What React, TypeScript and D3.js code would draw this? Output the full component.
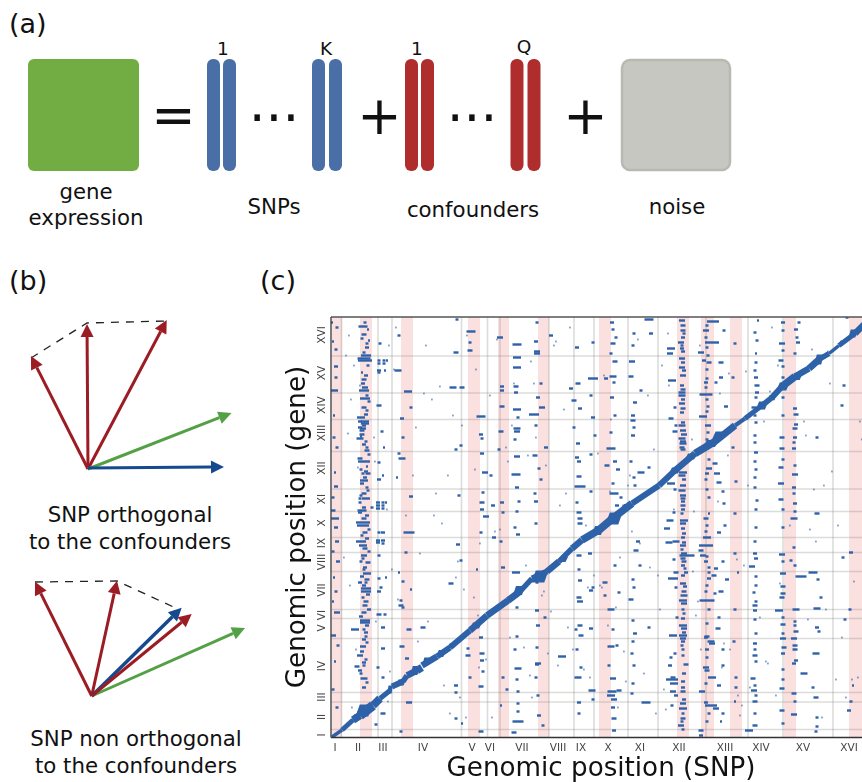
import React from "react";
import * as d3 from "d3";

const chromLabels = ["I","II","III","IV","V","VI","VII","VIII","IX","X","XI","XII","XIII","XIV","XV","XVI"];
const snpTicks = [4,27,52,92,141,159,191,227,250,277,309,348,394,430,472,518];
const geneTicks = [2.5,20.5,40.5,71.5,109.5,122.5,147.5,175.5,194.5,214.5,238.5,269.5,304.5,332.5,364.5,402.5];
const snpChromEnds = [10.5,47,61,130.5,156.5,169,218,243,263,297,327,375,417,452,502];
const geneChromEnds = [8,35.5,45,99,119,128,166,185,200,226,248.5,286,318,344.5,381.5];
const hotspotBands: [number,number][] = [[1,11],[29,41],[70,82],[137,149],[167,178],[207,218],[268,280],[346,358],[370,383],[399,411],[453,465],[518,535]];

const diagSnp = [1,11,22,29,42,49,59,null,61,72,76,86,91,null,91,106,119,139,156,177,189,201,216,228,241,251,268,284,301,328,344,364,384,404,414,431,441,451,464,478,488,498,508,524,533];
const diagGene = [0.5,7.5,17.5,22,32,39,47,null,51,56,62,67,70,null,72,81,90,107,122,137,146,159,166,176,189,197.5,207.5,221,234,252,267,284,296,312,319,332,340,351,361,369,378,384,392,404,413];
const diagWidth = [3,4,6,9,10,6,4,0,6,6,5,8,7,0,6,7,5,7,6,7,7,4,8,5,6,7,8,8,7,5,7,6,9,5,3,7,4,8,7,6,8,3,4,6,7];
const diagBlocks = [[33,27,17,12],[25,20,8,6],[59,48,6,8],[70,55,10,6],[84,67,9,9],[95,76,7,8],[110,84,9,7],[121,92,8,5],[145,112,12,6],[152,118,6,5],[188,147,12,9],[178,138,5,6],[209,161,17,12],[232,178,10,5],[267,207,12,9],[283,219,17,12],[296,231,12,5],[344,267,12,6],[360,281,12,6],[380,294,16,7],[388,302,14,8],[376,290,6,5],[431,332,12,8],[441,340,9,5],[452,351,13,8],[466,361,11,7],[474,367,8,4],[488,378,9,10],[522,404,9,8],[511,395,6,4]];

const rowsHotspotII = [[32,411,9],[33,403,5],[36,394,3],[35,382,10],[33,379,13],[32,377,10],[39,377,4],[33,358,5],[32,354,4],[34,350,6],[33,347,10],[36,342,3],[34,339,10],[30,320,8],[29,316,4],[34,316,8],[34,314,8],[29,310,4],[32,309,6],[31,307,5],[29,299,7],[30,301,2],[36,287,5],[29,279,5],[33,276,12],[36,271,2],[32,264,3],[37,264,5],[34,260,4],[33,257,8],[36,250,3],[35,239,8],[29,239,3],[29,235,3],[33,230,4],[41,230,3],[31,227,9],[29,225,4],[32,215,14],[32,212,12],[34,205,5],[30,196,10],[32,192,8],[33,182,6],[36,164,8],[29,155,4],[35,155,3],[35,149,10],[35,146,10],[34,132,5],[34,117,10],[34,115,10],[24,108,8],[33,108,3],[35,101,3],[32,91,6],[29,82,6],[26,71,5],[33,72,3],[29,67,4],[33,59,7]];
const rowsHotspotIIExtra = [[34,415,3],[37,408,2],[31,399,3],[38,397,2],[36,390,4],[33,385,3],[37,372,3],[31,365,2],[35,362,4],[38,336,3],[33,330,5],[36,327,3],[35,323,4],[33,312,4],[31,303,5],[35,296,3],[33,293,4],[36,290,3],[38,283,3],[30,268,3],[35,266,4],[31,254,4],[37,247,3],[33,244,5],[30,242,3],[36,222,4],[33,219,5],[38,208,3],[31,202,3],[36,199,4],[34,189,5],[38,186,3],[32,179,3],[37,175,5],[34,170,4],[31,161,4],[36,158,5],[33,152,4],[37,143,4],[32,140,3],[35,136,5],[38,128,4],[33,125,5],[30,121,4],[36,112,4],[35,105,4],[33,98,4],[36,95,3],[31,86,4],[35,78,3],[33,75,4],[30,64,3],[36,55,3],[33,50,4],[30,176,3],[33,168,3]];
const rowsColumnIII = [[49,394,3],[48,377,3],[53,377,3],[56,377,2],[48,374,3],[53,374,3],[48,367,4],[54,367,2],[48,365,3],[48,332,5],[48,258,4],[47,235,4],[52,235,3],[55,235,2],[47,232,4],[52,232,3],[47,229,4],[52,229,3],[48,205,3],[52,205,4],[47,197,4],[52,197,4],[47,195,4],[52,194,3],[48,182,3],[48,159,3],[48,146,4],[48,123,5],[54,123,3],[52,110,4],[52,89,4],[52,60,3],[45,13,3],[51,306,3],[53,290,2],[48,275,3],[52,262,2],[50,150,3],[55,160,2],[47,70,3],[52,24,5]];
const rowsColumnI = [[1,347,12],[5,251,4],[5,371,4],[4,219,8],[2,227,5],[5,210,4],[1,415,2],[6,125,6],[2,102,6],[2,136,2],[5,388,3],[3,300,3],[7,176,4],[6,410,3],[2,396,2],[5,360,3],[3,322,2],[6,290,3],[4,265,2],[2,240,3],[6,196,4],[2,186,3],[3,160,2],[5,146,3],[7,92,3],[4,76,2],[2,48,3],[6,30,3]];
const rowsColumnIV = [[67,367,7],[77,346,8],[71,319,4],[71,279,7],[68,284,3],[80,241,4],[78,205,11],[72,156,3],[70,137,3],[70,132,5],[72,130,3],[71,91,5],[78,108,5],[76,79,4],[78,35,6],[70,6,3],[68,402,3],[72,300,3],[80,330,3],[66,260,2],[75,185,3],[68,165,2],[80,148,2]];
const rowsMidLeft = [[126,418,3],[125,385,5],[122,350,7],[131,350,5],[125,288,3],[140,406,9],[139,395,3],[139,387,5],[150,321,9],[154,265,6],[150,303,4],[151,299,3],[151,284,4],[151,235,5],[151,228,4],[155,221,6],[163,200,4],[169,400,6],[170,306,5],[171,351,4],[171,347,4],[171,331,5],[171,235,4],[172,225,3],[125,19,3],[131,14,2],[120,154,5],[137,89,3],[137,82,5],[125,52,4],[150,6,5],[151,84,5],[151,77,4],[150,51,5],[92,110,5],[162,232,4],[160,262,3],[139,60,3],[125,45,3],[130,292,3],[128,242,3],[127,193,4],[130,177,3],[152,245,3],[150,205,3],[170,196,3],[172,170,4],[146,168,2],[168,288,3],[150,100,4],[152,66,3],[172,60,3],[176,48,3],[170,32,2]];
const rowsColumnVII = [[186,393,9],[186,380,8],[186,370,8],[185,351,5],[185,345,4],[186,328,8],[186,309,7],[186,306,6],[186,281,6],[185,263,9],[185,165,8],[187,69,7],[186,101,3],[187,16,11],[187,46,3],[187,34,3],[183,5,5],[205,396,4],[206,386,6],[206,384,6],[203,323,10],[204,282,5],[208,269,3],[220,402,4],[231,81,8],[206,73,4],[207,74,6],[206,127,4],[215,290,4],[211,330,6],[210,258,3],[205,236,4],[214,120,3],[187,320,3],[184,298,3],[186,250,4],[188,236,3],[186,226,3],[184,210,3],[187,203,4],[186,130,3],[184,88,3],[186,58,3],[187,26,3],[206,415,3],[210,354,3],[207,340,4],[205,312,3],[204,244,3],[205,214,3],[206,155,3],[207,112,4],[206,90,3],[205,60,3],[207,42,3],[208,22,4],[212,12,3]];
const rowsColumnIX = [[246,390,4],[247,354,5],[240,349,4],[243,337,5],[249,329,4],[243,310,3],[247,294,4],[248,276,4],[248,261,5],[249,251,11],[248,225,5],[249,219,5],[249,214,5],[248,182,5],[248,168,3],[249,157,4],[260,147,4],[248,140,5],[249,136,6],[249,112,5],[250,102,5],[247,60,7],[248,35,4],[261,47,7],[259,184,4],[262,359,10],[262,395,3],[260,342,3],[264,302,3],[262,320,4],[246,280,4],[260,283,3],[246,235,3],[260,246,3],[245,108,3],[246,88,3],[260,109,4],[250,70,3],[248,24,3],[262,38,3],[262,150,3]];
const rowsColumnX = [[275,359,4],[282,394,5],[281,415,4],[284,376,5],[282,361,7],[280,289,9],[287,268,4],[283,244,9],[276,272,5],[274,155,5],[280,128,7],[280,91,7],[282,59,6],[281,46,9],[288,47,5],[280,42,8],[283,38,6],[283,19,5],[283,7,4],[282,408,3],[285,400,3],[280,384,3],[283,355,3],[281,340,4],[284,322,3],[280,305,3],[284,276,4],[282,254,3],[290,240,3],[286,232,4],[284,172,3],[274,142,3],[288,145,3],[282,108,3],[286,92,3],[278,72,3],[282,30,4]];
const rowsColumnXI = [[301,376,6],[300,361,5],[310,347,3],[302,317,5],[302,302,4],[310,265,7],[320,404,4],[318,418,9],[305,187,5],[307,196,4],[309,172,3],[300,138,5],[302,117,3],[302,54,3],[315,35,9],[301,84,3],[302,322,4],[303,260,3],[303,404,3],[302,392,3],[304,335,4],[303,310,3],[300,276,3],[304,252,3],[318,270,3],[302,158,3],[303,150,3],[304,104,4],[302,96,3],[303,72,3],[301,44,3],[318,110,3]];
const rowsHotspotXII = [[351,417,6],[352,412,5],[352,407,5],[353,404,3],[350,395,6],[340,389,8],[351,389,4],[339,384,6],[351,379,6],[351,370,6],[353,367,4],[352,362,6],[341,357,8],[351,345,7],[351,342,7],[351,334,6],[352,329,5],[340,319,5],[351,312,7],[344,306,5],[352,307,6],[351,299,7],[352,294,7],[351,290,5],[352,265,8],[351,262,7],[340,254,8],[352,252,6],[351,247,7],[352,242,6],[352,239,5],[352,232,5],[339,217,7],[353,217,8],[352,214,6],[336,209,6],[352,209,4],[338,195,7],[353,195,4],[352,192,6],[345,196,7],[353,184,6],[356,182,15],[353,176,5],[352,172,4],[345,165,5],[355,165,4],[342,159,10],[352,154,6],[354,151,4],[353,142,7],[352,137,8],[353,134,6],[352,112,8],[353,109,6],[342,102,8],[352,102,8],[352,99,6],[352,96,4],[342,60,5],[341,58,12],[343,54,8],[342,46,6],[352,46,5],[345,42,4],[352,34,6],[352,29,8],[352,19,5],[350,12,6],[339,72,4],[355,73,5]];
const rowsHotspotXIIExtra = [[352,400,4],[351,392,3],[352,386,4],[352,375,4],[351,352,4],[352,348,5],[352,338,4],[351,325,4],[352,315,4],[353,303,6],[352,296,6],[352,288,5],[353,258,4],[352,236,4],[352,228,4],[351,224,3],[353,204,4],[352,200,4],[351,188,3],[352,179,5],[354,169,3],[352,162,4],[353,146,5],[352,128,3],[353,124,3],[352,119,4],[353,105,4],[351,92,3],[352,88,3],[352,82,3],[353,64,4],[352,56,4],[352,50,4],[353,38,4],[352,24,3],[351,16,3],[352,8,3],[344,330,3],[345,312,3],[342,265,3],[344,248,3],[343,225,3],[343,178,3],[345,150,3],[340,80,3],[344,84,3],[346,120,3],[341,32,3]];
const rowsColumnXIII = [[382,416,12],[375,407,6],[393,407,3],[376,395,4],[383,395,10],[370,385,6],[373,377,4],[378,375,5],[390,375,5],[376,359,3],[390,360,4],[375,355,4],[385,355,3],[375,343,13],[377,331,3],[395,331,4],[372,321,8],[377,312,6],[384,274,5],[378,269,6],[376,264,4],[386,264,6],[388,255,5],[393,234,3],[378,224,2],[375,219,5],[376,200,8],[375,192,14],[370,187,5],[372,182,6],[376,181,3],[375,176,4],[385,169,4],[378,170,3],[383,162,5],[378,159,4],[390,146,5],[376,137,15],[384,144,3],[387,109,5],[376,101,5],[375,100,4],[380,96,7],[381,94,6],[375,70,6],[376,67,5],[381,60,8],[371,46,6],[375,35,4],[380,32,12],[385,29,6],[370,7,5],[370,2,4]];
const rowsColumnXIIIExtra = [[376,412,3],[375,400,3],[376,390,3],[377,382,3],[376,368,3],[375,350,3],[376,338,3],[376,326,3],[377,305,3],[376,298,3],[378,278,3],[375,258,3],[376,248,3],[378,240,3],[376,212,3],[375,206,3],[378,165,3],[376,152,3],[375,146,3],[378,128,3],[376,114,3],[376,88,4],[376,80,3],[375,54,3],[378,24,3],[376,16,3],[392,246,3],[394,212,3],[388,205,4],[392,176,3],[396,158,4],[388,120,3],[392,88,3],[392,72,3],[388,52,4],[392,24,3],[390,16,2]];
const rowsColumnXIV = [[427,417,2],[424,405,3],[426,397,3],[425,384,2],[425,360,4],[426,352,5],[426,345,4],[423,330,5],[424,302,3],[424,295,3],[425,285,4],[424,260,3],[426,237,3],[424,184,4],[425,179,4],[421,171,6],[425,161,3],[424,132,5],[424,127,4],[424,94,4],[424,82,5],[422,59,5],[423,47,6],[424,36,5],[424,24,3],[424,12,5],[418,7,8],[404,394,3],[402,360,3],[404,184,3],[407,165,2],[425,375,3],[424,367,3],[425,340,3],[424,322,3],[425,315,3],[424,276,3],[425,268,3],[424,250,3],[425,228,3],[425,210,3],[424,196,3],[425,152,3],[423,145,3],[425,136,3],[424,118,3],[425,104,3],[424,88,3],[425,76,3],[424,52,3],[425,42,3],[405,256,3],[402,290,3],[404,224,3],[404,128,3],[403,96,3],[405,60,3],[405,50,3],[404,36,2]];
const rowsColumnXV = [[452,415,4],[468,415,3],[452,407,3],[451,394,6],[467,395,4],[450,377,5],[464,329,4],[465,323,5],[465,313,4],[464,309,5],[451,300,5],[451,289,5],[463,289,4],[450,270,5],[464,263,6],[450,254,6],[463,250,4],[450,238,5],[464,234,4],[463,219,7],[451,183,6],[460,177,3],[452,164,6],[470,161,11],[482,165,9],[452,151,5],[448,127,8],[465,128,7],[486,129,7],[452,113,5],[465,106,5],[452,99,6],[463,99,6],[453,90,5],[485,84,7],[465,77,4],[463,74,4],[473,64,7],[451,49,5],[463,44,5],[485,40,5],[451,27,5],[463,23,6],[485,6,3],[516,420,3],[511,332,3],[520,185,4],[519,128,3],[518,27,4]];
const rowsColumnXVExtra = [[465,408,4],[466,400,3],[452,387,3],[464,384,3],[452,371,3],[452,360,3],[452,340,3],[452,322,3],[464,300,4],[463,295,3],[452,278,3],[464,272,3],[463,244,3],[452,228,3],[464,226,3],[452,210,3],[463,190,3],[452,176,3],[464,172,3],[452,144,5],[451,140,5],[452,104,3],[464,116,3],[452,120,3],[464,112,3],[452,84,4],[464,92,5],[464,88,5],[452,68,3],[452,58,3],[464,36,3],[452,14,3],[486,300,3],[486,224,5],[486,110,4],[488,106,3],[487,158,3],[490,140,3],[482,50,3],[486,20,3],[486,11,3],[513,352,3],[512,180,3],[514,118,3],[520,36,3],[522,52,2]];

const sparseSnp = [17,22,28,42,57,64,81,92,100,108,116,121,130,135,144,158,165,176,182,196,202,214,222,232,238,254,266,272,279,291,296,306,316,322,330,337,362,368,388,396,405,414,432,440,446,474,480,492,498,506,528,12,18,24,44,58,66,86,96,112,118,128,142,147,160,178,192,200,210,226,236,258,270,286,292,312,326,334,364,392,408,418,436,444,476,490,504,526,20,56,74,104,124,148,174,194,212,228,256,276,294,318,332,366,398,410,434,478,494,514,16,26,60,88,110,134,146,168,198,216,234,262,284,300,324,360,390,412,438,482,500,522,14,19,43,55,62,84,94,102,126,132,143,154,163,180,199,204,219,224,241,252,268,278,288,298,308,328,336,342,361,369,386,397,406,416,428,442,448,458,472,484,496,510,520,530];
const sparseGene = [402,372,352,300,392,410,262,344,338,351,262,322,312,402,368,342,398,276,354,282,354,272,392,328,410,212,284,362,318,232,252,398,342,288,372,352,226,392,344,282,178,366,316,410,372,302,388,252,354,212,316,180,152,88,116,66,138,96,116,52,24,40,140,70,20,100,90,40,142,72,110,60,150,30,86,64,162,28,122,94,22,50,74,42,118,20,58,60,30,36,222,244,160,194,290,172,146,232,150,112,56,170,48,136,88,32,76,208,128,40,304,270,168,184,214,20,122,208,62,84,244,162,130,206,24,298,70,172,346,248,266,156,382,338,276,228,368,310,392,222,176,148,268,78,206,312,376,300,126,396,88,68,152,246,180,262,194,128,404,228,166,88,236,364,42,252,120,338,154,212,316,196,386,100,58,298];

const W = 862, H = 782;
const plotX0 = 331, plotY0 = 737.5, plotTop = 317;
const x = d3.scaleLinear().domain([0, 544]).range([plotX0, 875]);
const y = d3.scaleLinear().domain([0, 420.5]).range([plotY0, plotTop]);
const allRows = [rowsHotspotII,rowsHotspotIIExtra,rowsColumnIII,rowsColumnI,rowsColumnIV,rowsMidLeft,rowsColumnVII,rowsColumnIX,rowsColumnX,rowsColumnXI,rowsHotspotXII,rowsHotspotXIIExtra,rowsColumnXIII,rowsColumnXIIIExtra,rowsColumnXIV,rowsColumnXV,rowsColumnXVExtra].flat();

const BLUE = "#2f62a8";
const FONT = "'DejaVu Sans', sans-serif";

function Arrow({ p, q, color, w = 3 }: { p: number[]; q: number[]; color: string; w?: number }) {
  const a = Math.atan2(q[1] - p[1], q[0] - p[0]);
  const L = 13, S = 6.5;
  const bx = q[0] - L * Math.cos(a), by = q[1] - L * Math.sin(a);
  const nx = -Math.sin(a), ny = Math.cos(a);
  return (
    <g>
      <line x1={p[0]} y1={p[1]} x2={bx} y2={by} stroke={color} strokeWidth={w} />
      <polygon points={`${q[0]},${q[1]} ${bx + nx * S},${by + ny * S} ${bx - nx * S},${by - ny * S}`} fill={color} />
    </g>
  );
}

const txt = (s: string, xx: number, yy: number, size: number, anchor = "middle", fill = "#111") => (
  <text x={xx} y={yy} fontSize={size} textAnchor={anchor as any} fill={fill} fontFamily={FONT}>{s}</text>
);

export default function App() {
  const diagSegs: React.ReactNode[] = [];
  for (let i = 0; i < diagSnp.length - 1; i++) {
    if (diagSnp[i] === null || diagSnp[i + 1] === null) continue;
    diagSegs.push(
      <line key={i} x1={x(diagSnp[i] as number)} y1={y(diagGene[i] as number)} x2={x(diagSnp[i + 1] as number)} y2={y(diagGene[i + 1] as number)}
        stroke={BLUE} strokeWidth={(diagWidth[i] + diagWidth[i + 1]) / 2} />
    );
  }
  const dashed = d3.line();
  return (
    <svg width={W} height={H} viewBox={`0 0 ${W} ${H}`} style={{ position: "absolute", left: 0, top: 0, background: "#fff" }}>
      <defs>
        <clipPath id="plot"><rect x={plotX0} y={plotTop} width={W - plotX0} height={plotY0 - plotTop} /></clipPath>
        <filter id="soft" x="-2%" y="-2%" width="104%" height="104%"><feGaussianBlur stdDeviation="0.45" /></filter>
      </defs>

      {/* panel a */}
      {txt("(a)", 9, 33, 27, "start")}
      <rect x={28} y={59} width={111} height={112} rx={6} fill="#72ad43" />
      {[[207,"#4a6ea6"],[223,"#4a6ea6"],[312,"#4a6ea6"],[329,"#4a6ea6"],[405,"#b02d2d"],[421,"#b02d2d"],[510.5,"#b02d2d"],[527.5,"#b02d2d"]].map(([bx, c], i) => (
        <rect key={i} x={bx as number} y={59} width={13} height={112} rx={6} fill={c as string} />
      ))}
      <rect x={622} y={60} width={108} height={110} rx={8} fill="#c6c7c1" stroke="#b8b9b2" strokeWidth={2.5} />
      {txt("=", 173.5, 133, 53)}
      {txt("+", 379.5, 134, 53)}
      {txt("+", 585.5, 134, 53)}
      {txt("...", 274, 121, 53)}
      {txt("...", 472, 121, 53)}
      {txt("1", 223, 55, 18.5)}
      {txt("K", 326, 55, 18.5)}
      {txt("1", 417, 55, 18.5)}
      {txt("Q", 524, 53, 18.5)}
      {txt("gene", 86, 199, 21.3)}
      {txt("expression", 86, 225, 21.3)}
      {txt("SNPs", 274, 214, 21.3)}
      {txt("confounders", 473, 217, 21.3)}
      {txt("noise", 677, 214, 21.3)}

      {/* panel b */}
      {txt("(b)", 9, 290, 27, "start")}
      <path d={dashed([[31,358],[87,323],[166,321]] as any) as string} fill="none" stroke="#222" strokeWidth={1.3} strokeDasharray="8 7" />
      <Arrow p={[88,469]} q={[31,356]} color="#9c1c24" />
      <Arrow p={[88,469]} q={[87,324]} color="#9c1c24" />
      <Arrow p={[88,469]} q={[166.7,320]} color="#9c1c24" />
      <Arrow p={[88,469]} q={[231.5,413]} color="#54a046" />
      <Arrow p={[88,468]} q={[224,467]} color="#154a8f" />
      {txt("SNP orthogonal", 130, 522, 21.3)}
      {txt("to the confounders", 130, 549, 21.3)}
      <path d={dashed([[35,582],[117,581],[180,610]] as any) as string} fill="none" stroke="#222" strokeWidth={1.3} strokeDasharray="8 7" />
      <Arrow p={[91.7,696]} q={[35,581.7]} color="#9c1c24" />
      <Arrow p={[91.7,696]} q={[117,580.7]} color="#9c1c24" />
      <Arrow p={[91.7,696]} q={[245,628]} color="#54a046" />
      <Arrow p={[91.7,696]} q={[181.7,607.7]} color="#154a8f" w={3.5} />
      <Arrow p={[91.7,696]} q={[191.7,614]} color="#9c1c24" />
      {txt("SNP non orthogonal", 136, 746, 21.3)}
      {txt("to the confounders", 136, 773, 21.3)}

      {/* panel c */}
      {txt("(c)", 260, 290, 27, "start")}
      <g clipPath="url(#plot)">
        {hotspotBands.map(([a, b], i) => (
          <rect key={i} x={x(a)} y={plotTop} width={x(b) - x(a)} height={plotY0 - plotTop} fill="#fbe0e0" />
        ))}
        {snpChromEnds.map((d, i) => <line key={i} x1={x(d)} x2={x(d)} y1={plotTop} y2={plotY0} stroke="#8c8c84" strokeOpacity={0.3} strokeWidth={1.6} />)}
        {geneChromEnds.map((d, i) => <line key={i} x1={plotX0} x2={W} y1={y(d)} y2={y(d)} stroke="#8c8c84" strokeOpacity={0.3} strokeWidth={1.6} />)}
        <g filter="url(#soft)">
          {sparseSnp.map((d, i) => <rect key={i} x={x(d)} y={y(sparseGene[i]) - 0.9} width={1.8} height={1.8} fill={BLUE} opacity={0.6} />)}
          {allRows.map(([sx, gy, len], i) => (
            <rect key={i} x={x(sx) - (x(len) - x(0)) / 2} y={y(gy) - 1.2} width={x(len) - x(0)} height={2.4} fill={BLUE} />
          ))}
          {diagSegs}
          {diagBlocks.map(([sx, gy, w, h], i) => (
            <polygon key={i} fill={BLUE}
              points={[[sx - w / 2, gy - h / 2], [sx + w / 4, gy - h / 2], [sx + w / 2, gy + h / 2], [sx - w / 4, gy + h / 2]].map(([a, b]) => `${x(a)},${y(b)}`).join(" ")} />
          ))}
        </g>
      </g>
      <line x1={plotX0} x2={W} y1={plotTop} y2={plotTop} stroke="#555" strokeWidth={1.4} />
      <line x1={plotX0} x2={W} y1={plotY0} y2={plotY0} stroke="#333" strokeWidth={1.4} />
      <line x1={plotX0} x2={plotX0} y1={plotTop} y2={plotY0} stroke="#444" strokeWidth={1.4} />
      {chromLabels.map((c, i) => (
        <text key={i} x={x(snpTicks[i])} y={751} fontSize={10.5} textAnchor="middle" fill="#444" fontFamily={FONT}>{c}</text>
      ))}
      {chromLabels.map((c, i) => (
        <text key={i} transform={`translate(325,${y(geneTicks[i])}) rotate(-90)`} fontSize={10.5} textAnchor="middle" fill="#444" fontFamily={FONT}>{c}</text>
      ))}
      {txt("Genomic position (SNP)", 601, 776, 26.2)}
      <text transform="translate(305,527) rotate(-90)" fontSize={26.2} textAnchor="middle" fill="#111" fontFamily={FONT}>Genomic position (gene)</text>
    </svg>
  );
}
